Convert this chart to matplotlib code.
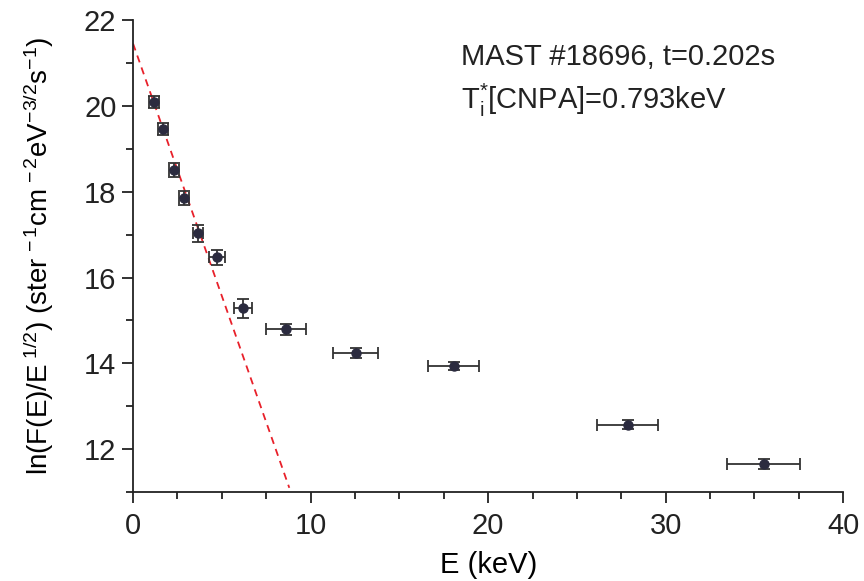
import matplotlib
matplotlib.use("Agg")
import matplotlib.pyplot as plt
from matplotlib.ticker import MultipleLocator

plt.rcParams['font.family'] = ['Liberation Sans', 'DejaVu Sans']
plt.rcParams['mathtext.fontset'] = 'custom'
plt.rcParams['mathtext.rm'] = 'Liberation Sans'
plt.rcParams['mathtext.it'] = 'Liberation Sans'
plt.rcParams['mathtext.default'] = 'regular'

# data
E = [1.18, 1.69, 2.31, 2.87, 3.66, 4.73, 6.2, 8.62, 12.55, 18.05, 27.85, 35.51]
lnF = [20.09, 19.46, 18.5, 17.85, 17.03, 16.47, 15.28, 14.79, 14.24, 13.93, 12.57, 11.65]
E_err = [0.29, 0.28, 0.3, 0.3, 0.3, 0.47, 0.52, 1.13, 1.27, 1.45, 1.74, 2.05]
lnF_err = [0.15, 0.14, 0.16, 0.17, 0.2, 0.17, 0.22, 0.13, 0.125, 0.09, 0.1, 0.11]
fit_E = [0.0, 8.8]
fit_lnF = [21.45, 11.1]

fig = plt.figure(figsize=(8.64, 5.81), dpi=100)
ax = fig.add_axes([0.154, 0.153, 0.822, 0.8126])

ax.plot(fit_E, fit_lnF, linestyle=(0, (4, 3)), color='#e8202a', lw=1.3, zorder=2)
ax.errorbar(E, lnF, xerr=E_err, yerr=lnF_err, fmt='o', color='#2b2b3f',
            ecolor='#333333', elinewidth=1.3, capsize=4, capthick=1.3,
            markersize=6.5, zorder=3)

ax.set_xlim(0, 40)
ax.set_ylim(11, 22)
ax.xaxis.set_major_locator(MultipleLocator(10))
ax.xaxis.set_minor_locator(MultipleLocator(2.5))
ax.yaxis.set_major_locator(MultipleLocator(2))
ax.yaxis.set_minor_locator(MultipleLocator(1))
for s in ['top', 'right']:
    ax.spines[s].set_visible(False)
for s in ['left', 'bottom']:
    ax.spines[s].set_linewidth(1.3)
    ax.spines[s].set_color('#222222')
ax.tick_params(which='major', direction='out', length=8, width=1.3, labelsize=21, colors='#222222', pad=4)
ax.tick_params(which='minor', direction='out', length=5, width=1.3, colors='#222222')
ax.tick_params(axis='x', pad=6)

ax.set_xlabel('E (keV)', fontsize=21, labelpad=8)
ax.set_ylabel(r'ln(F(E)/E$^{\ 1/2}$) (ster$^{\,-1}$cm$^{\,-2}$eV$^{-3/2}$s$^{-1}$)',
              fontsize=20, labelpad=20)

ax.text(0.462, 0.905, 'MAST #18696, t=0.202s', transform=ax.transAxes, fontsize=21, color='#222222')
ax.text(0.462, 0.812, r'T$_{i}^{*}$[CNPA]=0.793keV', transform=ax.transAxes, fontsize=21, color='#222222')

fig.savefig('out.png', dpi=100)
